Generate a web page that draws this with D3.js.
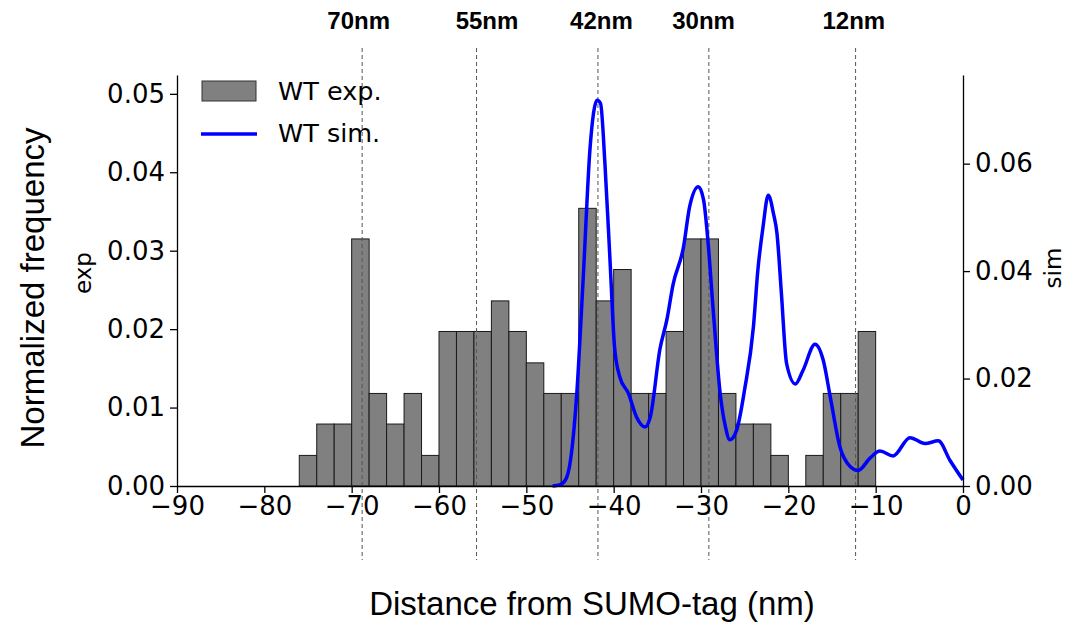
<!DOCTYPE html>
<html>
<head>
<meta charset="utf-8">
<script src="https://cdn.jsdelivr.net/npm/d3@7"></script>
<style>
  html, body { margin: 0; padding: 0; background: #fff; }
  svg { display: block; }
</style>
</head>
<body>
<svg id="chart" width="1073" height="629"></svg>
<script>
// Histogram of measured distances (2 nm bins, left edges) — normalized frequency
const binStarts = [-76, -74, -72, -70, -68, -66, -64, -62, -60, -58, -56, -54, -52, -50, -48, -46,
                   -44, -42, -40, -38, -36, -34, -32, -30, -28, -26, -24, -22, -20, -18, -16, -14, -12];
const expFreq = [0.0039, 0.0079, 0.0079, 0.0315, 0.0118, 0.0079, 0.0118, 0.0039, 0.0197, 0.0197, 0.0197, 0.0236, 0.0197, 0.0157, 0.0118, 0.0118,
                 0.0354, 0.0236, 0.0276, 0.0118, 0.0118, 0.0197, 0.0315, 0.0315, 0.0118, 0.0079, 0.0079, 0.0039, 0.0000, 0.0039, 0.0118, 0.0118, 0.0197];
const binWidth = 2;

// Simulated density curve
const simX = [-47, -46.2, -45.5, -45.0, -44.25, -43.5, -42.7, -41.9, -41.5, -41.0, -40.4, -39.9, -39.3, -38.3, -37.4, -36.4,
              -35.8, -34.7, -33.9, -33.2, -32.0, -31.3, -30.3, -29.7, -29.2, -28.6, -27.8, -27.2, -26.7, -25.9, -25.0, -24.0,
              -23.5, -22.9, -22.3, -21.7, -21.3, -20.8, -20.2, -19.2, -18.3, -16.95, -16.0, -15.2, -14.1, -12.9, -12.0, -10.65,
              -9.5, -8.0, -6.07, -4.35, -2.83, -1.5, 0];
const simY = [0, 0.0002, 0.0012, 0.0042, 0.0166, 0.0383, 0.063, 0.0718, 0.0712, 0.060, 0.0414, 0.0259, 0.0203, 0.0172, 0.0129, 0.011,
              0.0129, 0.0255, 0.031, 0.0375, 0.0445, 0.052, 0.0557, 0.0532, 0.0455, 0.0327, 0.0172, 0.011, 0.0086, 0.0105, 0.018, 0.0296,
              0.040, 0.0482, 0.0541, 0.0507, 0.047, 0.036, 0.0228, 0.019, 0.0216, 0.0264, 0.0234, 0.0166, 0.0073, 0.0036, 0.0029, 0.0052,
              0.0065, 0.0056, 0.009, 0.0079, 0.0084, 0.0048, 0.0011];

// Reference distance markers
const markerX = [-68.8, -55.7, -41.8, -29.1, -12.3];
const markerLabelX = [-69.2, -54.5, -41.4, -29.7, -12.5];
const markerLabels = ["70nm", "55nm", "42nm", "30nm", "12nm"];

const xTicks = [-90, -80, -70, -60, -50, -40, -30, -20, -10, 0];
const yLeftTicks = [0, 0.01, 0.02, 0.03, 0.04, 0.05];
const yRightTicks = [0, 0.02, 0.04, 0.06];

const svg = d3.select("#chart");
const plotLeft = 177, plotRight = 963, plotTop = 75, plotBottom = 486;

const x = d3.scaleLinear().domain([-90, 0]).range([plotLeft, plotRight]);
const yL = d3.scaleLinear().domain([0, 0.0524]).range([plotBottom, plotTop]);
const yR = d3.scaleLinear().domain([0, 0.0765]).range([plotBottom, plotTop]);

const tickFont = "'DejaVu Sans', sans-serif";
const labelFont = "'Liberation Sans', Arial, sans-serif";

// bars
svg.append("g").selectAll("rect")
  .data(binStarts.map((s, i) => ({ s, v: expFreq[i] })).filter(d => d.v > 0))
  .join("rect")
  .attr("x", d => x(d.s))
  .attr("width", d => x(d.s + binWidth) - x(d.s))
  .attr("y", d => yL(d.v))
  .attr("height", d => yL(0) - yL(d.v))
  .attr("fill", "#808080")
  .attr("stroke", "#1a1a1a")
  .attr("stroke-width", 1);

// dashed markers
svg.append("g").selectAll("line")
  .data(markerX)
  .join("line")
  .attr("x1", d => x(d)).attr("x2", d => x(d))
  .attr("y1", 48).attr("y2", 560)
  .attr("stroke", "#555")
  .attr("stroke-width", 1)
  .attr("stroke-dasharray", "4,3");

svg.append("g").selectAll("text")
  .data(markerLabels)
  .join("text")
  .attr("x", (d, i) => x(markerLabelX[i]))
  .attr("y", 29)
  .attr("text-anchor", "middle")
  .attr("font-family", labelFont)
  .attr("font-weight", "bold")
  .attr("font-size", 24)
  .text(d => d);

// sim curve
const line = d3.line()
  .x((d, i) => x(simX[i]))
  .y(d => yR(d))
  .curve(d3.curveMonotoneX);
svg.append("path")
  .datum(simY)
  .attr("d", line)
  .attr("fill", "none")
  .attr("stroke", "#0000ff")
  .attr("stroke-width", 3.5)
  .attr("stroke-linejoin", "round");

// axes
function styleAxis(g) {
  g.selectAll(".domain").attr("stroke", "#000").attr("stroke-width", 1.3);
  g.selectAll(".tick line").attr("stroke", "#000").attr("stroke-width", 1.3);
  g.selectAll(".tick text").attr("font-family", tickFont).attr("font-size", 26).attr("fill", "#000");
}

svg.append("g")
  .attr("transform", `translate(0,${plotBottom})`)
  .call(d3.axisBottom(x).tickValues(xTicks).tickSize(7).tickPadding(4).tickSizeOuter(0))
  .call(styleAxis);

svg.append("g")
  .attr("transform", `translate(${plotLeft},0)`)
  .call(d3.axisLeft(yL).tickValues(yLeftTicks).tickFormat(d3.format(".2f")).tickSize(7).tickPadding(5).tickSizeOuter(0))
  .call(styleAxis);

svg.append("g")
  .attr("transform", `translate(${plotRight},0)`)
  .call(d3.axisRight(yR).tickValues(yRightTicks).tickFormat(d3.format(".2f")).tickSize(7).tickPadding(5).tickSizeOuter(0))
  .call(styleAxis);

// axis titles
svg.append("text")
  .attr("transform", "translate(44,288) rotate(-90)")
  .attr("text-anchor", "middle")
  .attr("font-family", labelFont)
  .attr("font-size", 33)
  .text("Normalized frequency");

svg.append("text")
  .attr("transform", "translate(91,273) rotate(-90)")
  .attr("text-anchor", "middle")
  .attr("font-family", tickFont)
  .attr("font-size", 23)
  .text("exp");

svg.append("text")
  .attr("transform", "translate(1061,268) rotate(-90)")
  .attr("text-anchor", "middle")
  .attr("font-family", tickFont)
  .attr("font-size", 23)
  .text("sim");

svg.append("text")
  .attr("x", 592).attr("y", 615)
  .attr("text-anchor", "middle")
  .attr("font-family", labelFont)
  .attr("font-size", 33)
  .text("Distance from SUMO-tag (nm)");

// legend
const lg = svg.append("g");
lg.append("rect").attr("x", 202).attr("y", 81).attr("width", 54).attr("height", 20)
  .attr("fill", "#808080").attr("stroke", "#333").attr("stroke-width", 1);
lg.append("line").attr("x1", 201).attr("x2", 257).attr("y1", 134).attr("y2", 134)
  .attr("stroke", "#0000ff").attr("stroke-width", 3.5);
lg.append("text").attr("x", 278).attr("y", 100).attr("font-family", tickFont).attr("font-size", 25.5).text("WT exp.");
lg.append("text").attr("x", 278).attr("y", 142).attr("font-family", tickFont).attr("font-size", 25.5).text("WT sim.");
</script>
</body>
</html>
